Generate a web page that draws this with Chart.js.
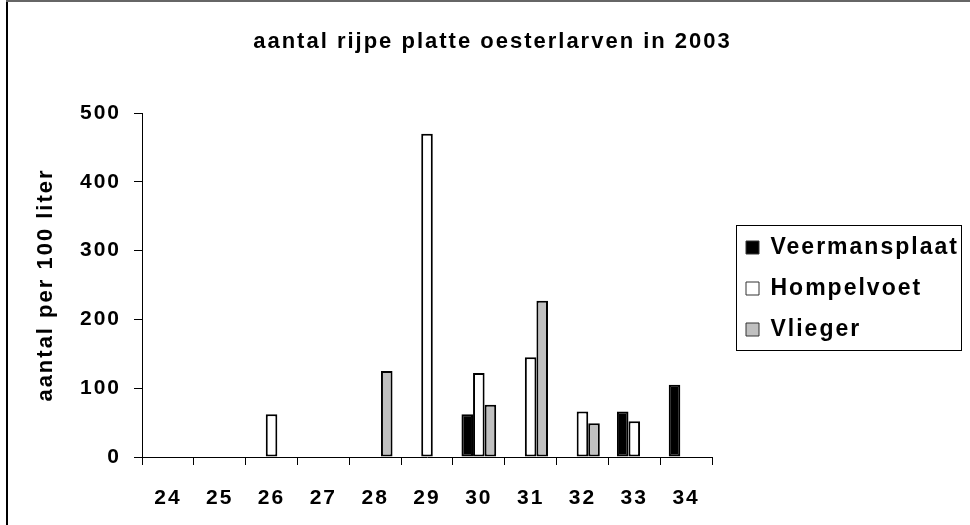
<!DOCTYPE html>
<html lang="nl">
<head>
    <meta charset="UTF-8">
    <title>aantal rijpe platte oesterlarven in 2003</title>
    <script src="https://cdn.jsdelivr.net/npm/chart.js"></script>
    <style>
        html, body { margin: 0; padding: 0; background: #fff; }
        #wrap { width: 970px; height: 525px; }
    </style>
</head>
<body>
    <div id="wrap"><canvas id="larvenChart" width="970" height="525"></canvas></div>

    <script>
        // week numbers on the x axis
        const categories = ['24', '25', '26', '27', '28', '29', '30', '31', '32', '33', '34'];
        const seriesNames = ['Veermansplaat', 'Hompelvoet', 'Vlieger'];

        // aantal per 100 liter (null = no bar)
        const veermansplaat = [null, null, null, null, null, null, 62, null, null, 66, 105];
        const hompelvoet    = [null, null, 62, null, null, 470, 122, 145, 66, 52, null];
        const vlieger       = [null, null, null, null, 125, null, 76, 227, 49, null, null];

        const yMin = 0;
        const yMax = 500;
        const yStep = 100;

        const FONT = '"Liberation Sans", Arial, sans-serif';
        Chart.defaults.color = '#000';
        Chart.defaults.font.family = FONT;
        Chart.defaults.font.weight = 'bold';

        const LEGEND_WIDTH = 242;   // plot ends at x=712
        const LEGEND_SHIFT_X = 16;  // gap between plot and legend
        const LEGEND_SHIFT_Y = 26;

        const framePlugin = {
            id: 'frame',
            afterInit(chart) {
                // fixed legend width, the text spacing is not measured by the legend
                const lg = chart.legend;
                if (lg) {
                    const fit = lg.fit;
                    lg.fit = function () {
                        fit.call(this);
                        this.width = LEGEND_WIDTH;
                    };
                }
            },
            beforeUpdate(chart) { chart.ctx.letterSpacing = '2px'; },
            afterLayout(chart) {
                const lg = chart.legend;
                if (lg) {
                    lg.left += LEGEND_SHIFT_X; lg.right += LEGEND_SHIFT_X;
                    lg.top += LEGEND_SHIFT_Y; lg.bottom += LEGEND_SHIFT_Y;
                }
            },
            beforeDraw(chart) {
                const ctx = chart.ctx;
                ctx.letterSpacing = '2px';
                ctx.save();
                ctx.fillStyle = '#fff';
                ctx.fillRect(0, 0, chart.width, chart.height);
                ctx.restore();
            },
            afterDraw(chart) {
                const ctx = chart.ctx;
                const lg = chart.legend;
                ctx.save();
                // outer frame, only left and top show in the original
                ctx.strokeStyle = '#000';
                ctx.lineWidth = 2;
                ctx.beginPath();
                ctx.moveTo(7, 0);
                ctx.lineTo(7, chart.height);
                ctx.stroke();
                ctx.strokeStyle = '#666';
                ctx.beginPath();
                ctx.moveTo(6, 1);
                ctx.lineTo(chart.width, 1);
                ctx.stroke();
                // legend box
                if (lg && lg.legendHitBoxes && lg.legendHitBoxes.length) {
                    const hb = lg.legendHitBoxes;
                    const last = hb[hb.length - 1];
                    const x0 = Math.round(lg.left + 8) + 0.5;
                    const y0 = Math.round(hb[0].top - 11) + 0.5;
                    const y1 = Math.round(last.top + last.height + 9) + 0.5;
                    ctx.strokeStyle = '#000';
                    ctx.lineWidth = 1;
                    ctx.strokeRect(x0, y0, 225, y1 - y0);
                }
                ctx.restore();
            }
        };

        const ctx = document.getElementById('larvenChart').getContext('2d');
        const larvenChart = new Chart(ctx, {
            type: 'bar',
            data: {
                labels: categories,
                datasets: [
                    { label: seriesNames[0], data: veermansplaat, backgroundColor: '#000000' },
                    { label: seriesNames[1], data: hompelvoet, backgroundColor: '#ffffff' },
                    { label: seriesNames[2], data: vlieger, backgroundColor: '#c0c0c0' }
                ].map(ds => Object.assign(ds, {
                    borderColor: '#000',
                    borderWidth: 2,
                    borderSkipped: false,
                    categoryPercentage: 0.67,
                    barPercentage: 1.0
                }))
            },
            options: {
                responsive: false,
                animation: false,
                events: [],
                layout: { padding: { left: 31, right: 16, top: 0, bottom: 0 } },
                plugins: {
                    tooltip: { enabled: false },
                    title: {
                        display: true,
                        text: 'aantal rijpe platte oesterlarven in 2003',
                        font: { size: 22, weight: 'bold', family: FONT },
                        color: '#000',
                        padding: { top: 29, bottom: 57.6 }
                    },
                    legend: {
                        position: 'right',
                        align: 'center',
                        labels: {
                            boxWidth: 13,
                            boxHeight: 13,
                            padding: 18,
                            color: '#000',
                            font: { size: 23, weight: 'bold', family: FONT },
                            generateLabels(chart) {
                                const items = Chart.defaults.plugins.legend.labels.generateLabels(chart);
                                items.forEach(it => { it.lineWidth = 1; it.strokeStyle = '#333'; });
                                return items;
                            }
                        }
                    }
                },
                scales: {
                    x: {
                        afterFit(scale) { scale.height = 68; },
                        grid: {
                            display: true,
                            drawOnChartArea: false,
                            drawTicks: true,
                            tickLength: 8,
                            color: '#000',
                            offset: true
                        },
                        border: { display: true, color: '#000', width: 1 },
                        ticks: {
                            padding: 21,
                            color: '#000',
                            font: { size: 21, weight: 'bold', family: FONT },
                            maxRotation: 0
                        }
                    },
                    y: {
                        min: yMin,
                        max: yMax,
                        afterFit(scale) { scale.width = 111; },
                        grid: {
                            display: true,
                            drawOnChartArea: false,
                            drawTicks: true,
                            tickLength: 8,
                            color: '#000'
                        },
                        border: { display: true, color: '#000', width: 1 },
                        ticks: {
                            stepSize: yStep,
                            padding: 13,
                            color: '#000',
                            font: { size: 21, weight: 'bold', family: FONT }
                        },
                        title: {
                            display: true,
                            text: 'aantal per 100 liter',
                            color: '#000',
                            font: { size: 22, weight: 'bold', family: FONT },
                            padding: { top: 2, bottom: 2 }
                        }
                    }
                }
            },
            plugins: [framePlugin]
        });
    </script>
</body>
</html>
